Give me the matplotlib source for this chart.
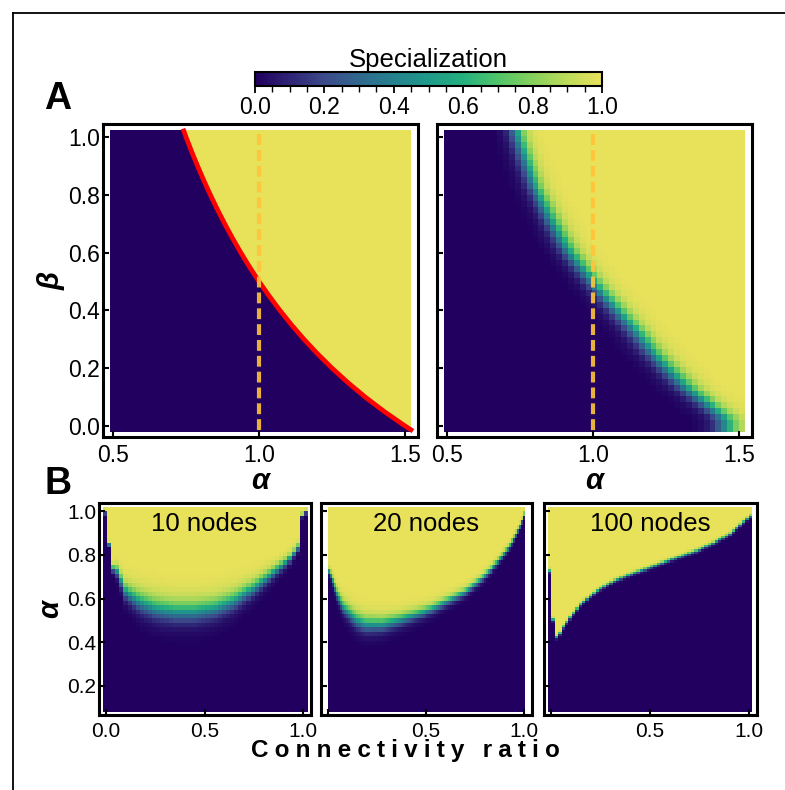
import numpy as np
import matplotlib.pyplot as plt
from matplotlib.colors import LinearSegmentedColormap
from matplotlib.lines import Line2D

# ---- panel A, left: red boundary (beta -> alpha)
beta_line = [-0.013, 0.0, 0.05, 0.1, 0.15, 0.2, 0.25, 0.3, 0.35, 0.4, 0.45, 0.5,
             0.55, 0.6, 0.65, 0.7, 0.75, 0.8, 0.85, 0.9, 0.95, 1.0, 1.021]
alpha_line = [1.52, 1.5, 1.4286, 1.3636, 1.3043, 1.25, 1.2, 1.1538, 1.1111, 1.0714, 1.0345, 1.0,
              0.9677, 0.9375, 0.9091, 0.8824, 0.8571, 0.8333, 0.8108, 0.7895, 0.7692, 0.75, 0.7426]

# ---- panel A, right: middle of the blurred transition and its width
beta_mid = [0.021, 0.136, 0.252, 0.39, 0.482, 0.54, 0.598, 0.713, 0.828, 1.007]
alpha_mid = [1.457, 1.32, 1.207, 1.093, 1.013, 0.967, 0.921, 0.858, 0.80, 0.739]
width_mid = [0.026, 0.025, 0.024, 0.022, 0.021, 0.021, 0.020, 0.019, 0.018, 0.017]

# ---- panel B: alpha where specialization switches on, per connectivity ratio
ratio_10 = [0.0, 0.01, 0.02, 0.04, 0.06, 0.10, 0.17, 0.25, 0.34, 0.45, 0.55, 0.65,
            0.75, 0.85, 0.92, 0.96, 0.98, 0.99, 1.02]
alpha_10 = [0.99, 0.99, 0.75, 0.73, 0.72, 0.63, 0.585, 0.555, 0.54, 0.54, 0.555, 0.59,
            0.65, 0.72, 0.77, 0.82, 0.845, 0.99, 0.99]
width_10 = [0.004, 0.004, 0.005, 0.010, 0.015, 0.022, 0.028, 0.030, 0.030, 0.030, 0.028, 0.025,
            0.020, 0.015, 0.012, 0.010, 0.008, 0.004, 0.004]

ratio_20 = [0.0, 0.018, 0.043, 0.077, 0.143, 0.193, 0.277, 0.36, 0.527, 0.693, 0.777,
            0.86, 0.927, 0.977, 1.0, 1.02]
alpha_20 = [0.73, 0.70, 0.625, 0.56, 0.50, 0.48, 0.48, 0.50, 0.55, 0.625, 0.685,
            0.76, 0.84, 0.93, 0.99, 0.99]
width_20 = [0.006, 0.010, 0.014, 0.018, 0.022, 0.022, 0.020, 0.017, 0.013, 0.010, 0.009,
            0.008, 0.007, 0.006, 0.005, 0.005]

ratio_100 = [-0.015, -0.007, 0.013, 0.03, 0.063, 0.147, 0.23, 0.314, 0.397, 0.48, 0.564,
             0.647, 0.731, 0.814, 0.898, 0.965, 1.007, 1.02]
alpha_100 = [0.73, 0.73, 0.47, 0.413, 0.47, 0.57, 0.631, 0.677, 0.707, 0.733, 0.761,
             0.788, 0.814, 0.849, 0.89, 0.944, 0.977, 0.98]
width_100 = [0.004] * len(ratio_100)

node_titles = ['10 nodes', '20 nodes', '100 nodes']
cbar_ticks = [0.0, 0.2, 0.4, 0.6, 0.8, 1.0]

# viridis-like map with the duller ends seen in the picture
cmap = LinearSegmentedColormap.from_list('spec', [
    (0.0, '#21005f'), (0.1, '#2e2475'), (0.2, '#3c4a8a'), (0.3, '#30688e'),
    (0.4, '#25828e'), (0.5, '#1f9a8a'), (0.6, '#25b07f'), (0.7, '#50c46a'),
    (0.8, '#85d05c'), (0.9, '#bcdb5a'), (1.0, '#e8e15a')])

plt.rcParams['font.family'] = ['Liberation Sans', 'DejaVu Sans']

fig = plt.figure(figsize=(7.85, 7.9), dpi=100)
W, H = 785.0, 790.0


def box(x0, y0, x1, y1):
    return [x0 / W, 1 - y1 / H, (x1 - x0) / W, (y1 - y0) / H]


def logistic(a, mid, w):
    return 1.0 / (1.0 + np.exp(-(a - mid) / w))


def style(ax, size):
    for s in ax.spines.values():
        s.set_linewidth(2.2)
    ax.tick_params(direction='in', length=4, width=1.5, labelsize=size)
    ax.tick_params(axis='y', pad=2)
    ax.tick_params(axis='x', pad=5)


# ---------------- panel A ----------------
ext_a = [0.49, 1.52, -0.021, 1.021]
axl = fig.add_axes(box(103, 124, 418, 437))
axr = fig.add_axes(box(437, 124, 752, 437))

# left: sharp step at the red boundary
a_fine = np.linspace(ext_a[0], ext_a[1], 400)
b_fine = np.linspace(ext_a[2], ext_a[3], 400)
A, B = np.meshgrid(a_fine, b_fine)
crit = np.interp(b_fine, beta_line, alpha_line)[:, None]
im = axl.imshow((A > crit).astype(float), cmap=cmap, vmin=0, vmax=1, origin='lower',
                extent=ext_a, aspect='auto', interpolation='nearest')
axl.plot(alpha_line, beta_line, color='red', lw=3.4)

# right: coarse grid with blurred transition
n = 51
a_c = ext_a[0] + (np.arange(n) + 0.5) * (ext_a[1] - ext_a[0]) / n
b_c = ext_a[2] + (np.arange(n) + 0.5) * (ext_a[3] - ext_a[2]) / n
mid = np.interp(b_c, beta_mid, alpha_mid)[:, None]
wid = np.interp(b_c, beta_mid, width_mid)[:, None]
axr.imshow(logistic(a_c[None, :], mid, wid), cmap=cmap, vmin=0, vmax=1, origin='lower',
           extent=ext_a, aspect='auto', interpolation='nearest')

for ax in (axl, axr):
    ax.plot([1.0, 1.0], [-0.015, 1.015], color='#ffc43a', lw=3, alpha=0.9,
            dashes=(2.6, 1.2))
    ax.set_xlim(0.466, 1.544)
    ax.set_ylim(-0.038, 1.045)
    ax.set_xticks([0.5, 1.0, 1.5])
    ax.set_yticks([0.0, 0.2, 0.4, 0.6, 0.8, 1.0])
    style(ax, 16.5)
    ax.set_xlabel('α', fontsize=21, fontweight='bold', style='italic', labelpad=0)
axl.set_ylabel('β', fontsize=21, fontweight='bold', style='italic', labelpad=2)
axr.set_yticklabels([])

# colorbar
cax = fig.add_axes(box(255, 72, 602, 86))
cb = fig.colorbar(im, cax=cax, orientation='horizontal', ticks=cbar_ticks)
cb.outline.set_linewidth(1.5)
cax.xaxis.set_minor_locator(plt.MultipleLocator(0.05))
cax.tick_params(which='major', direction='out', length=5, width=1.3, pad=2,
                labelsize=16.5)
cax.tick_params(which='minor', direction='out', length=4, width=1.0)
cax.set_title('Specialization', fontsize=18.5, pad=3)

# ---------------- panel B ----------------
b_boxes = [box(99, 503, 311, 715), box(321, 503, 532, 715), box(544, 503, 757, 715)]
b_ext = [[-0.015, 1.02, 0.081, 1.014], [0.0, 1.0, 0.081, 1.014], [-0.015, 1.01, 0.081, 1.014]]
b_grid = [(50, 46), (100, 46), (60, 92)]
b_data = [(ratio_10, alpha_10, width_10), (ratio_20, alpha_20, width_20),
          (ratio_100, alpha_100, width_100)]

for i in range(3):
    ax = fig.add_axes(b_boxes[i])
    ext = b_ext[i]
    nx, ny = b_grid[i]
    rr, aa, ww = b_data[i]
    cx = ext[0] + (np.arange(nx) + 0.5) * (ext[1] - ext[0]) / nx
    cy = ext[2] + (np.arange(ny) + 0.5) * (ext[3] - ext[2]) / ny
    m = np.interp(cx, rr, aa)[None, :]
    w = np.interp(cx, rr, ww)[None, :]
    ax.imshow(logistic(cy[:, None], m, w), cmap=cmap, vmin=0, vmax=1, origin='lower',
              extent=ext, aspect='auto', interpolation='nearest')
    ax.set_xlim(-0.035, 1.04)
    ax.set_ylim(0.0674, 1.0366)
    ax.set_xticks([0.0, 0.5, 1.0])
    ax.set_yticks([0.2, 0.4, 0.6, 0.8, 1.0])
    style(ax, 15)
    if i == 0:
        ax.set_ylabel('α', fontsize=21, fontweight='bold', style='italic', labelpad=2)
    else:
        ax.set_xticklabels(['', '0.5', '1.0'])
        ax.set_yticklabels([])
    ax.text(0.5, 0.942, node_titles[i], fontsize=18.5, ha='center', va='center')

spaced = '\u2005'.join('Connectivity') + '\u2005\u2005\u2005' + '\u2005'.join('ratio')
fig.text(405 / W, 1 - 757 / H, spaced, fontsize=17.5, fontweight='bold',
         ha='center', va='baseline')

# panel letters and the frame line
fig.text(58 / W, 1 - 99 / H, 'A', fontsize=27, fontweight='bold', ha='center', va='center')
fig.text(58 / W, 1 - 484 / H, 'B', fontsize=27, fontweight='bold', ha='center', va='center')
fig.add_artist(Line2D([13 / W, 1.0], [1 - 13 / H, 1 - 13 / H], transform=fig.transFigure,
                      color='black', lw=1.3))
fig.add_artist(Line2D([13 / W, 13 / W], [0.0, 1 - 13 / H], transform=fig.transFigure,
                      color='black', lw=1.3))

fig.savefig('out.png', dpi=100)
